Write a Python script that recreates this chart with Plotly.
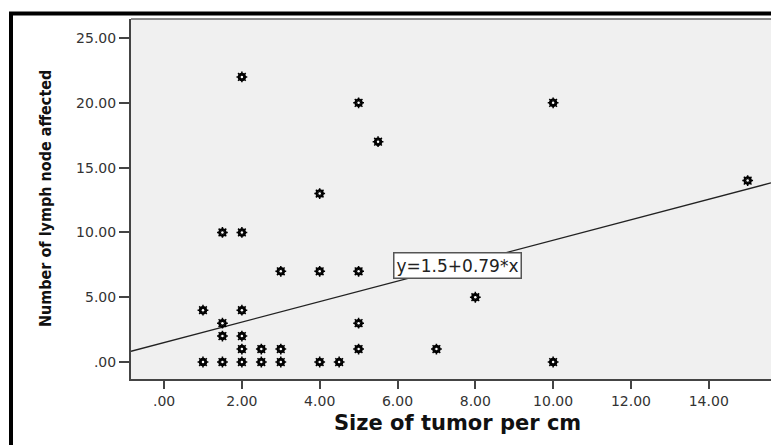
import plotly.graph_objects as go

# Data
tumor_size_cm = [2, 5, 10, 5.5, 15, 4, 1.5, 2, 3, 4, 5, 8, 1, 2, 1.5, 5, 1.5, 2,
                 2, 2.5, 3, 5, 7, 1, 1.5, 2, 2.5, 3, 4, 4.5, 10]
lymph_nodes = [22, 20, 20, 17, 14, 13, 10, 10, 7, 7, 7, 5, 4, 4, 3, 3, 2, 2,
               1, 1, 1, 1, 1, 0, 0, 0, 0, 0, 0, 0, 0]

fit_intercept = 1.5
fit_slope = 0.79
fit_label = "y=1.5+0.79*x"

x_tickvals = [0, 2, 4, 6, 8, 10, 12, 14]
x_ticktext = [".00", "2.00", "4.00", "6.00", "8.00", "10.00", "12.00", "14.00"]
y_tickvals = [0, 5, 10, 15, 20, 25]
y_ticktext = [".00", "5.00", "10.00", "15.00", "20.00", "25.00"]

x_title = "Size of tumor per cm"
y_title = "Number of lymph node affected"

X_RANGE = [-0.85, 15.6]
Y_RANGE = [-1.31, 26.47]

fig = go.Figure()

# regression line across the full x range
fit_x = list(X_RANGE)
fit_y = [fit_intercept + fit_slope * v for v in fit_x]
fig.add_trace(go.Scatter(
    x=fit_x, y=fit_y, mode="lines",
    line=dict(color="#222222", width=1.3),
    hoverinfo="skip", showlegend=False,
))

# points (gear-like SPSS markers with a small white centre)
fig.add_trace(go.Scatter(
    x=tumor_size_cm, y=lymph_nodes, mode="markers",
    marker=dict(symbol="asterisk-open", size=9, color="black",
                line=dict(color="black", width=1.5)),
    showlegend=False,
))
fig.add_trace(go.Scatter(
    x=tumor_size_cm, y=lymph_nodes, mode="markers",
    marker=dict(symbol="circle-open", size=6.5, color="black",
                line=dict(color="black", width=2.0)),
    showlegend=False,
))
fig.add_trace(go.Scatter(
    x=tumor_size_cm, y=lymph_nodes, mode="markers",
    marker=dict(symbol="circle", size=2.5, color="white",
                line=dict(width=0)),
    showlegend=False,
))

tick_font = dict(family="DejaVu Sans, Arial, sans-serif", size=14, color="#333333")

fig.update_layout(
    width=771, height=445,
    margin=dict(l=131, r=0, t=19, b=66),
    paper_bgcolor="white",
    plot_bgcolor="#f0f0f0",
    xaxis=dict(
        range=X_RANGE, tickvals=x_tickvals, ticktext=x_ticktext,
        showgrid=False, zeroline=False,
        ticks="outside", ticklen=8, tickwidth=2, tickcolor="#444444",
        showline=True, linecolor="#444444", linewidth=2, mirror=False,
        tickfont=tick_font,
    ),
    yaxis=dict(
        range=Y_RANGE, tickvals=y_tickvals, ticktext=y_ticktext,
        showgrid=False, zeroline=False,
        ticks="outside", ticklen=10, tickwidth=1.5, tickcolor="#444444",
        showline=True, linecolor="#444444", linewidth=2, mirror=False,
        tickfont=tick_font,
    ),
    shapes=[
        # top border of the plot area
        dict(type="line", xref="paper", yref="paper",
             x0=0, x1=1.05, y0=1, y1=1,
             line=dict(color="#666666", width=1.5)),
        # outer black frame (left and top visible)
        dict(type="line", xref="paper", yref="paper",
             x0=-0.1875, x1=-0.1875, y0=1.0153, y1=-0.3,
             line=dict(color="black", width=4)),
        dict(type="line", xref="paper", yref="paper",
             x0=-0.1906, x1=1.1, y0=1.0153, y1=1.0153,
             line=dict(color="black", width=4)),
    ],
    annotations=[
        dict(x=7.53, y=7.48, xref="x", yref="y", text=fit_label,
             showarrow=False,
             font=dict(family="DejaVu Sans, Arial, sans-serif", size=17, color="#222222"),
             bgcolor="white", bordercolor="#555555", borderwidth=1.5, borderpad=2),
        dict(x=(457 - 131) / 640, y=-(423 - 379) / 360, xref="paper", yref="paper",
             text="<b>" + x_title + "</b>", showarrow=False,
             xanchor="center", yanchor="middle",
             font=dict(family="DejaVu Sans, Arial, sans-serif", size=21, color="#111111")),
        dict(x=-(131 - 45) / 640, y=0.5, xref="paper", yref="paper",
             text="<b>" + y_title + "</b>", showarrow=False, textangle=-90,
             xanchor="center", yanchor="middle",
             font=dict(family="Liberation Sans Narrow, Arial Narrow, DejaVu Sans Condensed, Liberation Sans, sans-serif",
                       size=16, color="#111111")),
    ],
)

fig.write_html(
    "out.html",
    config={"displayModeBar": False},
    post_script="document.body.style.margin='0';document.body.style.overflow='hidden';",
)
